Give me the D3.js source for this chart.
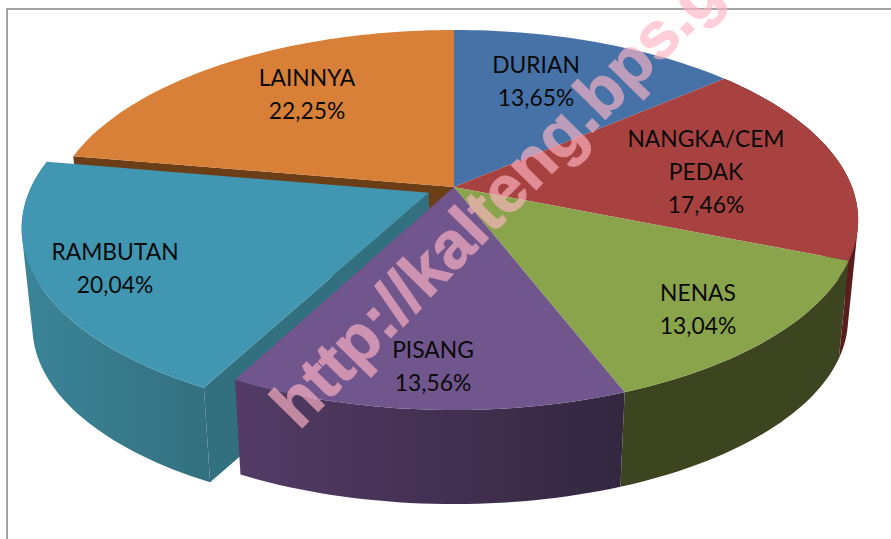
<!DOCTYPE html>
<html>
<head>
<meta charset="utf-8">
<title>Pie 3D</title>
<script src="https://d3js.org/d3.v7.min.js"></script>
<style>
    html, body { margin: 0; padding: 0; background: #fff; }
    svg { display: block; }
    text.label { font-family: Lato, "Open Sans", sans-serif; font-size: 22.8px; fill: #0a0a0a; text-anchor: middle; }
    text.mark { font-family: "Liberation Sans", Arial, sans-serif; font-weight: bold; font-size: 66px; fill: #ffb5c5; stroke: #ffb5c5; stroke-width: 1; opacity: 0.65; }
</style>
</head>
<body>
<svg id="chart" width="891" height="539"></svg>
<script>
// values
var categories = ["DURIAN", "NANGKA/CEM PEDAK", "NENAS", "PISANG", "RAMBUTAN", "LAINNYA"];
var values = [13.65, 17.46, 13.04, 13.56, 20.04, 22.25];
var valueLabels = ["13,65%", "17,46%", "13,04%", "13,56%", "20,04%", "22,25%"];

// colours per slice
var topColors = ["#4672a8", "#a84240", "#8aa44c", "#71558d", "#4196b1", "#d87f38"];
var wallLeft = ["#2f4d72", "#5a1c1c", "#3c4420", "#533b66", "#3b8499", "#6b3e17"];
var wallRight = ["#2f4d72", "#5a1c1c", "#3c4420", "#33273f", "#33707f", "#6b3e17"];

// label lines and where each block is centred
var labelLines = [["DURIAN"], ["NANGKA/CEM", "PEDAK"], ["NENAS"], ["PISANG"], ["RAMBUTAN"], ["LAINNYA"]];
var labelX = [536, 706, 698, 433, 115, 307];
var labelY = [65, 139, 293, 350, 252, 78];
var lineGap = 33;

// perspective of the disc
var cx = 454, cy = 187;
var a = 398, b = 184.3, k = 0.1737;
var shrink = 0.975, drop = 99.6;
var explodeBy = [0, 0, 0, 0, 0.07, 0];

var svg = d3.select("#chart");
var defs = svg.append("defs");

var pie = d3.pie().sort(null).value(d => d)(values);

// disc coordinates to screen, depth 0 = top face, 1 = bottom face
function project(theta, r, slice, depth) {
    var mid = (slice.startAngle + slice.endAngle) / 2;
    var e = explodeBy[slice.index];
    var u = r * Math.sin(theta) + e * Math.sin(mid);
    var v = -r * Math.cos(theta) - e * Math.cos(mid);
    var w = 1 - k * v;
    var x = a * u / w, y = b * v / w;
    if (depth) { x *= shrink; y = y * shrink + drop; }
    return [cx + x, cy + y];
}

function arcPoints(slice, depth) {
    var n = Math.ceil((slice.endAngle - slice.startAngle) * 40);
    return d3.range(n + 1).map(i => project(slice.startAngle + (slice.endAngle - slice.startAngle) * i / n, 1, slice, depth));
}

var line = d3.line();

function topPath(s) {
    return line([project(0, 0, s, 0)].concat(arcPoints(s, 0))) + "Z";
}
// outer wall as a run of small quads, so the silhouette past the tangent is covered too
function wallPath(s) {
    var top = arcPoints(s, 0), bottom = arcPoints(s, 1), d = "";
    d3.range(top.length - 1).forEach(function (i) {
        var quad = [top[i], top[i + 1], bottom[i + 1], bottom[i]];
        if (d3.polygonArea(quad) < 0) quad.reverse();
        d += line(quad) + "Z";
    });
    return d;
}
// flat cut face along one edge of a slice
function cutPath(s, theta) {
    return line([project(0, 0, s, 0), project(theta, 1, s, 0), project(theta, 1, s, 1), project(0, 0, s, 1)]) + "Z";
}

pie.forEach(function (s) {
    var g = defs.append("linearGradient").attr("id", "wall" + s.index);
    g.append("stop").attr("offset", "0%").attr("stop-color", wallLeft[s.index]);
    g.append("stop").attr("offset", "100%").attr("stop-color", wallRight[s.index]);
});

// frame
svg.append("path").attr("d", "M7,539V9H891").attr("fill", "none").attr("stroke", "#a3a3a3").attr("stroke-width", 2);

// back to front
var lainnya = pie[5], rambutan = pie[4], nangka = pie[1], nenas = pie[2], pisang = pie[3];
var sides = svg.append("g");
sides.append("path").attr("d", cutPath(lainnya, lainnya.startAngle)).attr("fill", wallLeft[5]);
[nangka, nenas].forEach(s => sides.append("path").attr("d", wallPath(s)).attr("fill", "url(#wall" + s.index + ")"));
sides.append("path").attr("d", wallPath(rambutan)).attr("fill", "url(#wall4)");
sides.append("path").attr("d", cutPath(rambutan, rambutan.startAngle)).attr("fill", "#33707f");
sides.append("path").attr("d", wallPath(pisang)).attr("fill", "url(#wall3)");

svg.append("g").selectAll("path")
    .data(pie)
    .enter()
    .append("path")
    .attr("d", topPath)
    .attr("fill", d => topColors[d.index]);

// labels
var labels = svg.append("g");
pie.forEach(function (s) {
    var i = s.index;
    labelLines[i].concat([valueLabels[i]]).forEach(function (t, j) {
        labels.append("text")
            .attr("class", "label")
            .attr("x", labelX[i])
            .attr("y", labelY[i] + j * lineGap + 8)
            .text(t);
    });
});

// watermark
svg.append("text")
    .attr("class", "mark")
    .attr("transform", "translate(299,431) rotate(-45.5)")
    .text("http://kalteng.bps.go.id");
</script>
</body>
</html>
